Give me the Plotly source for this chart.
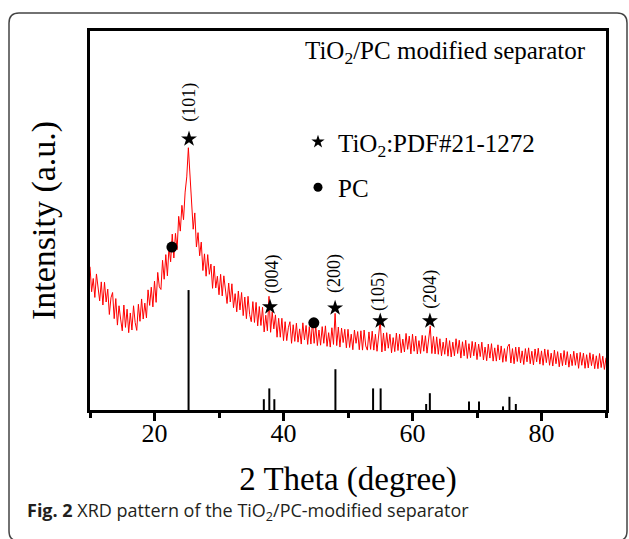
import plotly.graph_objects as go

# ---------------- data ----------------
two_theta_start = 10.0
two_theta_step = 0.25
intensity = [
    37.8, 31.2, 34.7, 29.7, 35.9, 33.0, 28.8, 33.8,
    27.7, 33.7, 28.5, 31.9, 25.2, 29.6, 31.0, 24.1,
    29.4, 22.4, 27.5, 24.0, 20.9, 27.7, 21.8, 26.6,
    20.4, 25.6, 21.1, 27.5, 23.1, 21.0, 27.9, 23.4,
    29.3, 24.0, 28.2, 24.3, 31.7, 27.6, 32.4, 27.2,
    34.0, 28.4, 36.3, 32.5, 31.8, 39.5, 34.5, 41.0,
    35.4, 43.1, 39.1, 46.4, 40.1, 46.6, 42.3, 51.1,
    47.2, 54.0, 50.2, 57.5, 61.5, 69.2, 62.0, 57.5,
    47.7, 52.0, 43.0, 46.8, 40.7, 44.3, 36.8, 41.2,
    35.3, 41.0, 35.8, 38.5, 32.1, 38.0, 32.2, 35.3,
    30.4, 35.8, 30.1, 35.4, 30.8, 28.1, 33.5, 28.5,
    33.3, 27.0, 30.7, 25.9, 31.4, 26.4, 31.0, 24.9,
    29.8, 24.1, 30.0, 25.2, 23.3, 28.6, 23.1, 28.4,
    22.2, 27.3, 22.3, 27.1, 20.6, 25.0, 20.9, 30.0,
    20.5, 25.9, 21.4, 25.1, 19.2, 24.2, 19.2, 24.2,
    18.3, 23.3, 18.3, 21.7, 23.3, 17.6, 22.5, 18.1,
    22.9, 17.9, 21.4, 17.4, 23.0, 18.5, 22.3, 17.3,
    22.0, 17.4, 23.5, 17.6, 22.2, 17.0, 21.1, 17.1,
    22.0, 17.6, 22.2, 16.8, 20.4, 16.6, 21.7, 17.3,
    25.5, 17.0, 21.9, 16.6, 21.6, 17.8, 21.3, 16.4,
    21.3, 16.5, 20.0, 15.9, 21.1, 17.6, 20.7, 15.9,
    20.9, 15.8, 21.1, 16.9, 15.8, 20.6, 16.0, 20.8,
    15.8, 20.0, 15.5, 20.3, 23.8, 15.3, 20.3, 15.6,
    20.4, 16.3, 20.0, 15.1, 19.1, 15.4, 20.3, 15.7,
    20.0, 15.1, 18.7, 15.3, 20.2, 16.0, 19.5, 14.8,
    20.0, 15.5, 19.5, 14.8, 18.3, 14.9, 19.7, 15.5,
    19.6, 15.0, 19.0, 22.2, 14.9, 19.4, 14.8, 19.3,
    14.7, 18.8, 14.3, 17.9, 14.7, 19.0, 14.2, 18.3,
    14.0, 17.9, 14.3, 18.8, 14.9, 18.4, 13.7, 18.0,
    14.3, 18.4, 13.6, 17.5, 13.8, 18.1, 14.3, 17.9,
    13.3, 17.4, 14.1, 17.9, 13.2, 16.6, 13.0, 17.4,
    13.7, 17.5, 12.9, 16.4, 12.9, 17.2, 13.2, 16.9,
    12.6, 16.2, 12.8, 16.7, 17.4, 12.4, 16.2, 12.2,
    16.6, 12.8, 16.6, 12.4, 15.6, 12.0, 16.2, 12.7,
    16.4, 12.2, 15.5, 11.9, 16.1, 12.7, 16.3, 12.1,
    15.6, 11.8, 16.1, 12.5, 15.9, 11.8, 15.0, 11.6,
    15.8, 12.2, 15.4, 11.4, 15.0, 11.7, 15.7, 11.9,
    15.4, 11.3, 14.7, 11.7, 15.5, 11.8, 15.0, 11.0,
    15.2, 11.8, 15.0, 11.0, 14.6, 11.1, 15.1, 11.7,
    14.7, 10.9, 14.3, 10.9, 14.9, 11.2, 14.2, 10.7,
    13.8,
]
two_theta = [two_theta_start + two_theta_step * i for i in range(len(intensity))]

# TiO2 anatase reference pattern (PDF#21-1272), relative intensity %
ref_2theta = [25.28, 36.95, 37.80, 38.58, 48.05, 53.89, 55.06,
              62.12, 62.69, 68.76, 70.31, 74.03, 75.03, 76.02]
ref_rel_int = [100, 9, 18, 9, 34, 18, 18, 5, 14, 7, 7, 3, 11, 5]

# peak markers
tio2_peak_2theta = [25.35, 37.9, 48.0, 55.0, 62.7]
tio2_marker_y = [71.5, 27.2, 26.9, 23.5, 23.5]
tio2_hkl = ["(101)", "(004)", "(200)", "(105)", "(204)"]
hkl_label_x = [25.5, 38.3, 48.0, 54.8, 62.8]
hkl_label_y = [81.3, 35.9, 35.9, 31.4, 31.9]
pc_2theta = [22.7, 44.7]
pc_marker_y = [43.0, 23.0]

x_ticks = [20, 40, 60, 80]
x_minor_ticks = [10, 30, 50, 70, 90]

# ---------------- figure ----------------
W, H = 629, 539
ML, MR, MT, MB = 90, 23, 31, 129
PW, PH = W - ML - MR, H - MT - MB
SERIF = "Liberation Serif, Times New Roman, serif"


def px_x(p):
    return (p - ML) / PW


def px_y(p):
    return (H - MB - p) / PH


fig = go.Figure()

# reference sticks
stick_x, stick_y = [], []
for t, v in zip(ref_2theta, ref_rel_int):
    stick_x += [t, t, None]
    stick_y += [0, v, None]
fig.add_trace(go.Scatter(x=stick_x, y=stick_y, mode="lines", yaxis="y2",
                         line=dict(color="black", width=2), showlegend=False,
                         hoverinfo="skip"))

# measured pattern
fig.add_trace(go.Scatter(x=two_theta, y=intensity, mode="lines",
                         line=dict(color="#ff0000", width=1), showlegend=False))

# markers
fig.add_trace(go.Scatter(x=tio2_peak_2theta, y=tio2_marker_y, mode="markers",
                         marker=dict(symbol="star", size=12, color="black"),
                         showlegend=False))
fig.add_trace(go.Scatter(x=pc_2theta, y=pc_marker_y, mode="markers",
                         marker=dict(symbol="circle", size=11, color="black"),
                         showlegend=False))

# legend entries
fig.add_trace(go.Scatter(x=[None], y=[None], mode="markers", legendgroup="a",
                         name="TiO<sub>2</sub>:PDF#21-1272",
                         marker=dict(symbol="star", size=10, color="black")))
fig.add_trace(go.Scatter(x=[None], y=[None], mode="markers", legendgroup="b",
                         name="PC",
                         marker=dict(symbol="circle", size=9, color="black")))

annotations = []
for t, y, lab in zip(hkl_label_x, hkl_label_y, tio2_hkl):
    annotations.append(dict(x=t, y=y, xref="x", yref="y", text=lab,
                            textangle=-90, showarrow=False,
                            font=dict(family=SERIF, size=18, color="black")))

annotations.append(dict(x=px_x(588), y=px_y(52), xref="paper", yref="paper",
                        xanchor="right", yanchor="middle", showarrow=False,
                        text="TiO<sub>2</sub>/PC modified separator",
                        font=dict(family=SERIF, size=25, color="black")))

annotations.append(dict(x=px_x(25), y=px_y(511), xref="paper", yref="paper",
                        xanchor="left", yanchor="middle", showarrow=False,
                        text="<b>Fig. 2</b> XRD pattern of the TiO<sub>2</sub>/PC-modified separator",
                        font=dict(family="Open Sans, sans-serif", size=18, color="#231f20")))

# rounded frame around the figure
L, R, T, B, r = 9, 627, 13, 541, 10
path = (f"M {px_x(L + r)},{px_y(T)} L {px_x(R - r)},{px_y(T)} "
        f"Q {px_x(R)},{px_y(T)} {px_x(R)},{px_y(T + r)} "
        f"L {px_x(R)},{px_y(B - r)} Q {px_x(R)},{px_y(B)} {px_x(R - r)},{px_y(B)} "
        f"L {px_x(L + r)},{px_y(B)} Q {px_x(L)},{px_y(B)} {px_x(L)},{px_y(B - r)} "
        f"L {px_x(L)},{px_y(T + r)} Q {px_x(L)},{px_y(T)} {px_x(L + r)},{px_y(T)} Z")

fig.update_layout(
    width=W, height=H,
    margin=dict(l=ML, r=MR, t=MT, b=MB),
    paper_bgcolor="white", plot_bgcolor="white",
    annotations=annotations,
    shapes=[dict(type="path", path=path, xref="paper", yref="paper",
                 line=dict(color="#444444", width=1.5))],
    legend=dict(x=px_x(298), y=px_y(119), xanchor="left", yanchor="top",
                bgcolor="rgba(0,0,0,0)", tracegroupgap=10,
                font=dict(family=SERIF, size=25, color="black")),
    xaxis=dict(range=[10, 90], showline=True, linewidth=3, linecolor="black",
               mirror=True, ticks="outside", tickvals=x_ticks, ticklen=8,
               tickwidth=2.5, tickcolor="black", showgrid=False, zeroline=False,
               ticklabelstandoff=-10,
               tickfont=dict(family=SERIF, size=26, color="black"),
               minor=dict(tickvals=x_minor_ticks, ticks="outside", ticklen=5,
                          tickwidth=2.5, tickcolor="black", showgrid=False),
               title=dict(text="2 Theta (degree)", standoff=20,
                          font=dict(family=SERIF, size=33, color="black"))),
    yaxis=dict(range=[0, 100], showline=True, linewidth=3, linecolor="black",
               mirror=True, ticks="", showticklabels=False, showgrid=False,
               zeroline=False,
               title=dict(text="Intensity (a.u.)", standoff=22,
                          font=dict(family=SERIF, size=34, color="black"))),
    yaxis2=dict(range=[0, 316], overlaying="y", visible=False),
)

fig.write_html("out.html")
